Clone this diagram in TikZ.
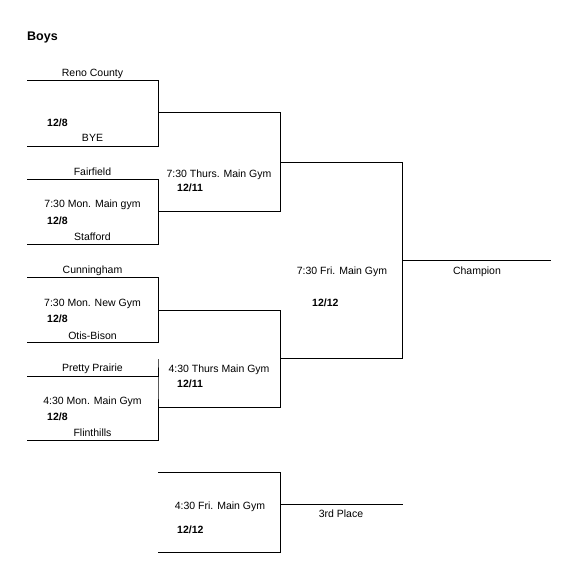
\documentclass[tikz,border=0pt]{standalone}
\usepackage{fontspec}
\setmainfont{Liberation Sans}
\begin{document}
\begin{tikzpicture}[x=1pt,y=-1pt,
  lbl/.style={font=\fontsize{10.5}{12}\selectfont, inner sep=0pt, anchor=base},
  dte/.style={font=\fontsize{10.5}{12}\selectfont\bfseries, inner sep=0pt, anchor=base west},
  ttl/.style={font=\fontsize{12.5}{14}\selectfont\bfseries, inner sep=0pt, anchor=base west},
  brk/.style={draw=black, line width=1pt}]
\useasboundingbox (0,0) rectangle (579,583);
% title
\node[ttl] (title) at (27,40.5) {Boys};
% round 1 brackets
\draw[brk] (27,81) -- (158,81) -- (158,146) -- (27,146);
\draw[brk] (27,179) -- (158,179) -- (158,244) -- (27,244);
\draw[brk] (27,277) -- (158,277) -- (158,342) -- (27,342);
\draw[brk] (27,376) -- (158,376) -- (158,359) -- (158,440) -- (27,440);
% round 2 brackets
\draw[brk] (158,113) -- (280,113) -- (280,211) -- (158,211);
\draw[brk] (158,310) -- (280,310) -- (280,407) -- (158,407);
% final
\draw[brk] (280,162) -- (402,162) -- (402,358) -- (280,358);
\draw[brk] (402,260) -- (551,260);
% third place
\draw[brk] (158,472) -- (280,472) -- (280,552) -- (158,552);
\draw[brk] (280,504) -- (403,504);
% box 1 texts
\node[lbl] (t1) at (92.5,77) {Reno County};
\node[dte] (d1) at (47,126) {12/8};
\node[lbl] (t2) at (92.5,142) {BYE};
% box 2
\node[lbl] (t3) at (92.5,175) {Fairfield};
\node[lbl] (g2) at (92.5,207.5) {7:30 Mon. Main gym};
\node[dte] (d2) at (47,224) {12/8};
\node[lbl] (t4) at (92.5,240) {Stafford};
% box 3
\node[lbl] (t5) at (92.5,273.5) {Cunningham};
\node[lbl] (g3) at (92.5,306) {7:30 Mon. New Gym};
\node[dte] (d3) at (47,322) {12/8};
\node[lbl] (t6) at (92.5,339) {Otis-Bison};
% box 4
\node[lbl] (t7) at (92.5,371.5) {Pretty Prairie};
\node[lbl] (g4) at (92.5,404.5) {4:30 Mon. Main Gym};
\node[dte] (d4) at (47,420) {12/8};
\node[lbl] (t8) at (92.5,436) {Flinthills};
% round 2 texts
\node[lbl] (s1) at (219,177) {7:30 Thurs. Main Gym};
\node[dte] (sd1) at (177,191) {12/11};
\node[lbl] (s2) at (219,372) {4:30 Thurs Main Gym};
\node[dte] (sd2) at (177,387) {12/11};
% final texts
\node[lbl] (f1) at (342,274) {7:30 Fri. Main Gym};
\node[dte] (fd) at (312,306.5) {12/12};
\node[lbl] (ch) at (477,274.5) {Champion};
% third place texts
\node[lbl] (p1) at (220,509) {4:30 Fri. Main Gym};
\node[dte] (pd) at (177,533) {12/12};
\node[lbl] (p3) at (341,517) {3rd Place};
\end{tikzpicture}
\end{document}
